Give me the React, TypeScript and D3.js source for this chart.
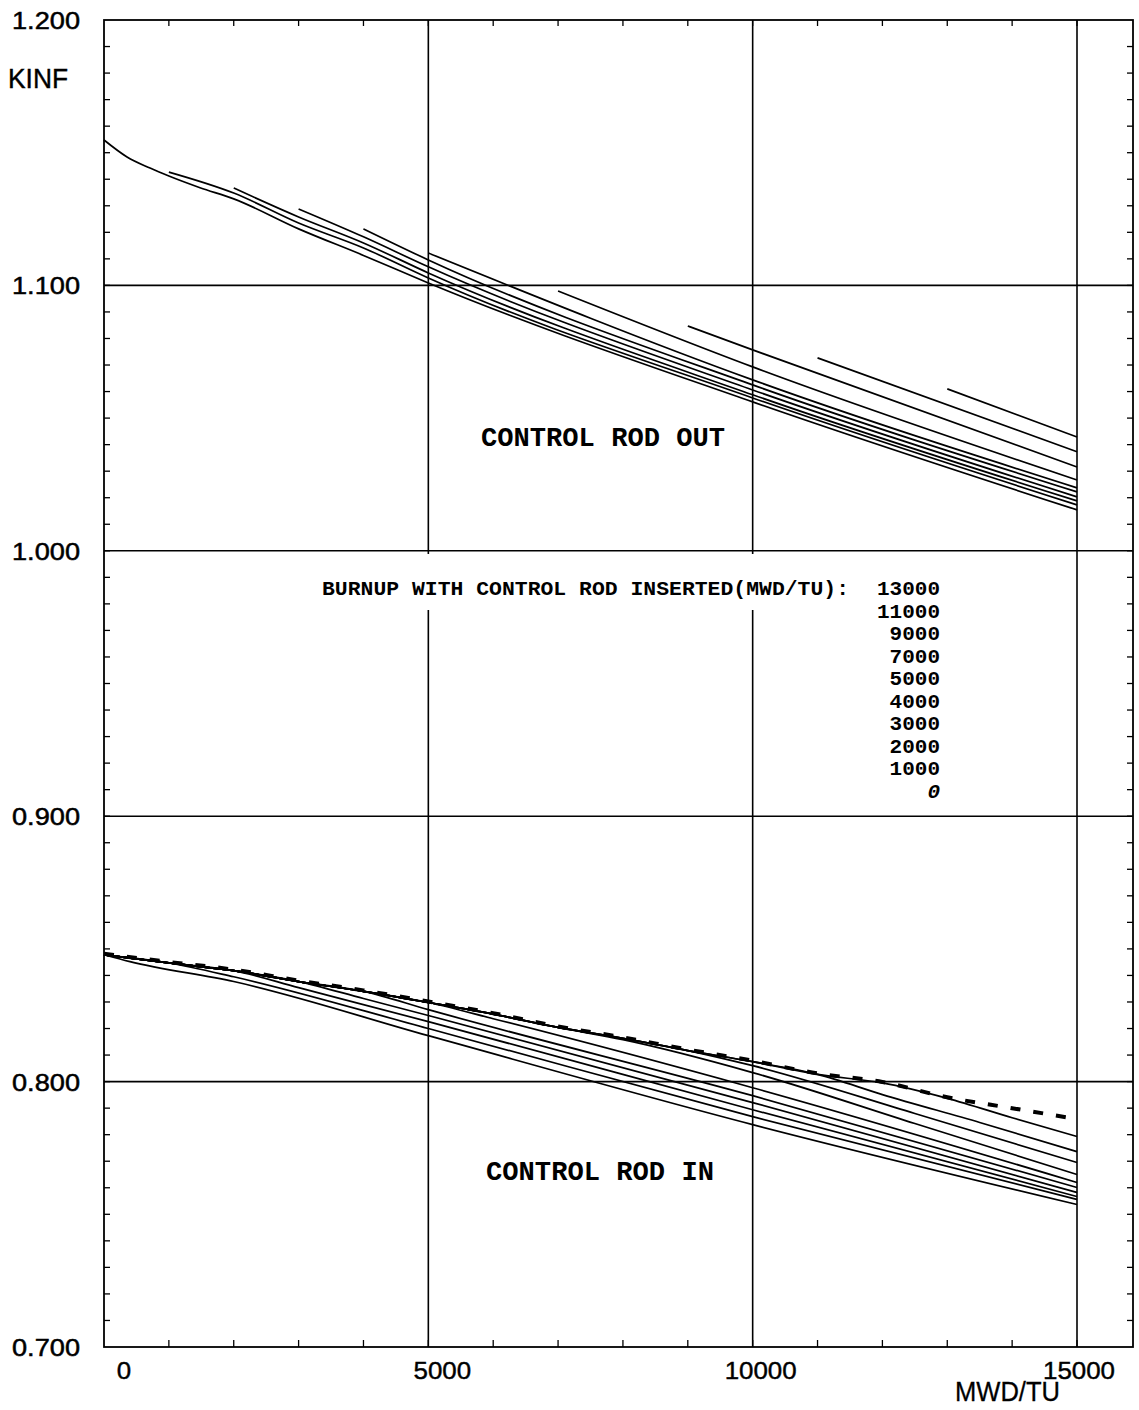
import * as d3 from "d3";

type Pt = [number, number];

const W = 1139;
const H = 1410;

// axis labels and grid
const burnupLabels = [0, 5000, 10000, 15000];
const kinfLabels = [1.2, 1.1, 1.0, 0.9, 0.8, 0.7];
const gridBurnups = [5000, 10000, 15000];
const gridKinf = [1.1, 1.0, 0.9, 0.8];
const legendBurnups = ["13000", "11000", "9000", "7000", "5000", "4000", "3000", "2000", "1000", "0"];

// CONTROL ROD OUT, [burnup, kinf], one list per burnup with rod inserted
const out0: Pt[] = [[0, 1.1548], [355, 1.1484], [710, 1.1442], [1000, 1.1412], [1480, 1.1368], [2000, 1.1326], [3000, 1.1213], [4000, 1.1113], [5000, 1.1009], [10000, 1.0561], [15000, 1.0154]];
const out1000: Pt[] = [[1000, 1.1427], [2000, 1.1348], [3000, 1.1235], [4000, 1.1141], [5000, 1.1028], [10000, 1.0576], [15000, 1.0173]];
const out2000: Pt[] = [[2000, 1.1367], [3000, 1.1258], [4000, 1.116], [5000, 1.1047], [10000, 1.0588], [15000, 1.0188]];
const out3000: Pt[] = [[3000, 1.1288], [4000, 1.1183], [5000, 1.107], [10000, 1.0606], [15000, 1.0203]];
const out4000: Pt[] = [[4000, 1.1213], [5000, 1.1096], [10000, 1.0625], [15000, 1.0222]];
const out5000: Pt[] = [[5000, 1.1122], [10000, 1.0644], [15000, 1.0237]];
const out7000: Pt[] = [[7000, 1.0979], [10000, 1.0693], [15000, 1.0267]];
const out9000: Pt[] = [[9000, 1.0847], [10000, 1.0757], [15000, 1.0316]];
const out11000: Pt[] = [[11000, 1.0727], [15000, 1.0373]];
const out13000: Pt[] = [[13000, 1.061], [15000, 1.0429]];
const rodOutCurves = [out0, out1000, out2000, out3000, out4000, out5000, out7000, out9000, out11000, out13000];

// CONTROL ROD IN: rod kept in all the time (dashed)
const dashedIn: Pt[] = [[0, 0.8478], [1000, 0.8447], [2000, 0.8418], [3000, 0.8377], [4000, 0.834], [5000, 0.8298], [6000, 0.8254], [7000, 0.8204], [8000, 0.8163], [9000, 0.8117], [10000, 0.8075], [11000, 0.8027], [12000, 0.7995], [13000, 0.7937], [14000, 0.7896], [15000, 0.7855]];
// branches after the rod is pulled out
const branchStarts = [0, 1000, 2000, 3000, 4000, 5000, 7000, 9000, 11000, 13000];
const in0: Pt[] = [[400, 0.8452], [2000, 0.8377], [5000, 0.8173], [10000, 0.7838], [15000, 0.7537]];
const in1000: Pt[] = [[2000, 0.8395], [5000, 0.82], [10000, 0.7868], [15000, 0.7556]];
const in2000: Pt[] = [[3000, 0.8354], [5000, 0.8226], [10000, 0.7894], [15000, 0.7567]];
const in3000: Pt[] = [[4000, 0.8313], [5000, 0.8249], [10000, 0.7921], [15000, 0.7582]];
const in4000: Pt[] = [[5000, 0.8271], [10000, 0.7947], [15000, 0.7601]];
const in5000: Pt[] = [[6000, 0.8237], [10000, 0.7977], [15000, 0.762]];
const in7000: Pt[] = [[8000, 0.8158], [10000, 0.8034], [12500, 0.7842], [15000, 0.765]];
const in9000: Pt[] = [[10000, 0.806], [12500, 0.788], [15000, 0.7695]];
const in11000: Pt[] = [[12000, 0.7951], [13500, 0.7846], [15000, 0.7736]];
const in13000: Pt[] = [[14000, 0.7864], [15000, 0.7793]];
const rodInBranches = [in0, in1000, in2000, in3000, in4000, in5000, in7000, in9000, in11000, in13000];

const x = d3.scaleLinear().domain([0, 15000]).range([104, 1077]);
const y = d3.scaleLinear().domain([0.7, 1.2]).range([1347, 20]);
const labelX = d3.scaleLinear().domain([0, 15000]).range([124, 1079]);
const xMax = x.invert(1133);

const line = d3
    .line<Pt>()
    .x((d) => x(d[0]))
    .y((d) => y(d[1]))
    .curve(d3.curveMonotoneX);

const App = () => {
    const left = x(0);
    const right = x(xMax);
    const top = y(1.2);
    const bottom = y(0.7);

    const xMinor = d3.range(1000, xMax, 1000);
    const yMinor = d3.range(71, 120).map((v) => v / 100);

    const rodInCurves = branchStarts.map((b, i) =>
        dashedIn.filter((p) => p[0] <= b).concat(rodInBranches[i])
    );

    const sans = "'Liberation Sans', Arial, sans-serif";
    const mono = "'Liberation Mono', 'Courier New', monospace";

    return (
        <svg width={W} height={H} style={{position: "absolute", left: 0, top: 0, background: "#fff"}}>
            <rect width={W} height={H} fill="#fff"/>

            {/* grid */}
            {gridKinf.map((k) => (
                <line key={"gk" + k} x1={left} x2={right} y1={y(k)} y2={y(k)} stroke="#000" strokeWidth={1.6}/>
            ))}
            {gridBurnups.map((b) => (
                <line key={"gb" + b} x1={x(b)} x2={x(b)} y1={top} y2={bottom} stroke="#000" strokeWidth={1.6}/>
            ))}

            {/* minor ticks */}
            {xMinor.map((b) => (
                <g key={"xt" + b}>
                    <line x1={x(b)} x2={x(b)} y1={bottom} y2={bottom - 7} stroke="#000" strokeWidth={1.3}/>
                    <line x1={x(b)} x2={x(b)} y1={top} y2={top + 6} stroke="#000" strokeWidth={1.3}/>
                </g>
            ))}
            {yMinor.map((k) => (
                <g key={"yt" + k}>
                    <line x1={left} x2={left + 6} y1={y(k)} y2={y(k)} stroke="#000" strokeWidth={1.3}/>
                    <line x1={right} x2={right - 6} y1={y(k)} y2={y(k)} stroke="#000" strokeWidth={1.3}/>
                </g>
            ))}

            {/* frame */}
            <rect x={left} y={top} width={right - left} height={bottom - top} fill="none" stroke="#000" strokeWidth={1.8}/>

            {/* rod out curves */}
            {rodOutCurves.map((c, i) => (
                <path key={"out" + i} d={line(c) ?? ""} fill="none" stroke="#000" strokeWidth={1.7}/>
            ))}

            {/* rod in curves */}
            {rodInCurves.map((c, i) => (
                <path key={"in" + i} d={line(c) ?? ""} fill="none" stroke="#000" strokeWidth={1.7}/>
            ))}
            <path d={line(dashedIn) ?? ""} fill="none" stroke="#000" strokeWidth={4}
                  strokeDasharray="10 13" transform="translate(0,-1)"/>

            {/* legend */}
            <rect x={300} y={554} width={570} height={56} fill="#fff"/>
            <text x={322} y={595} fontFamily={mono} fontWeight="bold" fontSize={21}
                  textLength={527} lengthAdjust="spacingAndGlyphs">
                BURNUP WITH CONTROL ROD INSERTED(MWD/TU):
            </text>
            {legendBurnups.map((s, i) => (
                <text key={"lg" + s} x={940} y={595 + i * 22.5} textAnchor="end" fontFamily={mono}
                      fontWeight="bold" fontSize={21} fontStyle={s === "0" ? "italic" : "normal"}>
                    {s}
                </text>
            ))}

            <text x={481} y={446} fontFamily={mono} fontWeight="bold" fontSize={27}
                  textLength={244} lengthAdjust="spacingAndGlyphs">CONTROL ROD OUT</text>
            <text x={486} y={1180} fontFamily={mono} fontWeight="bold" fontSize={27}
                  textLength={228} lengthAdjust="spacingAndGlyphs">CONTROL ROD IN</text>

            {/* axis labels */}
            {kinfLabels.map((k) => (
                <text key={"kl" + k} x={12} y={y(k) + 9} fontFamily={sans} fontSize={24}
                      stroke="#000" strokeWidth={0.5}
                      textLength={68} lengthAdjust="spacingAndGlyphs">
                    {k.toFixed(3)}
                </text>
            ))}
            <text x={8} y={88} fontFamily={sans} fontSize={27} textLength={60}
                  stroke="#000" strokeWidth={0.4}
                  lengthAdjust="spacingAndGlyphs">KINF</text>
            {burnupLabels.map((b) => (
                <text key={"bl" + b} x={labelX(b)} y={1379} textAnchor="middle" fontFamily={sans}
                      fontSize={23} stroke="#000" strokeWidth={0.4}
                      textLength={String(b).length * 14.4} lengthAdjust="spacingAndGlyphs">
                    {b}
                </text>
            ))}
            <text x={955} y={1401} fontFamily={sans} fontSize={27} textLength={105}
                  stroke="#000" strokeWidth={0.3}
                  lengthAdjust="spacingAndGlyphs">MWD/TU</text>
        </svg>
    );
};

export default App;
